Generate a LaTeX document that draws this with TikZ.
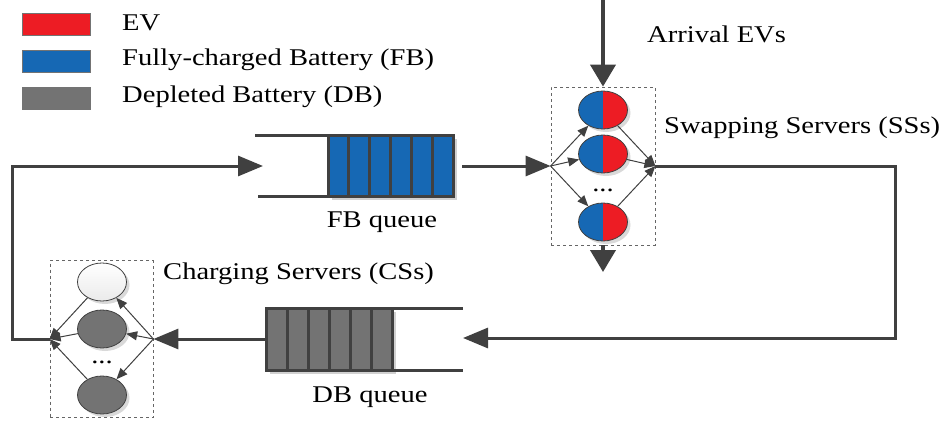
\documentclass[tikz,border=0pt]{standalone}
\usepackage{fontspec}
\setmainfont{Liberation Serif}[FakeStretch=1.19]
\usetikzlibrary{arrows.meta,shapes.geometric,shadows}
\definecolor{evred}{HTML}{ED1C24}
\definecolor{fbblue}{HTML}{1668B4}
\definecolor{dbgray}{HTML}{737373}
\definecolor{ln}{HTML}{404040}
\begin{document}
\begin{tikzpicture}[x=1pt,y=-1pt,
  thickline/.style={line width=3pt, draw=ln},
  bigarrow/.style={thickline, -{Triangle[length=25pt,width=20pt]}},
  thinarrow/.style={line width=1pt, draw=ln, -{Triangle[length=11pt,width=9pt]}},
  lbl/.style={font=\fontsize{24}{28}\selectfont, inner sep=0pt, text=black},
  swatch/.style={minimum width=68pt, minimum height=22pt, inner sep=0pt, draw=black!55, line width=0.8pt},
  dashbox/.style={draw=ln!80, dashed, line width=0.8pt, inner sep=0pt},
  sh/.style={drop shadow={shadow xshift=3pt, shadow yshift=-3pt, fill=black!25, opacity=0.6}},
  ssell/.style={ellipse, minimum width=49pt, minimum height=38pt, inner sep=0pt, draw=ln, line width=0.8pt, sh,
    path picture={
      \fill[fbblue] (path picture bounding box.south west) rectangle (path picture bounding box.north);
      \fill[evred] (path picture bounding box.south) rectangle (path picture bounding box.north east);
    }},
  csell/.style={ellipse, minimum width=49pt, minimum height=38pt, inner sep=0pt, draw=ln, line width=0.8pt, sh},
  cell/.style={line width=3pt, draw=ln},
]
\useasboundingbox (0,0) rectangle (946,423);

% legend
\node[swatch, fill=evred]  (lgev) at (56,24) {};
\node[swatch, fill=fbblue] (lgfb) at (56,61) {};
\node[swatch, fill=dbgray] (lgdb) at (56,98) {};
\node[lbl, anchor=west] (tev) at (122,23) {EV};
\node[lbl, anchor=west] (tfb) at (122,60) {Fully-charged Battery (FB)};
\node[lbl, anchor=west] (tdb) at (122,97) {Depleted Battery (DB)};

% swapping servers
\node[dashbox, minimum width=104pt, minimum height=158pt] (ssbox) at (603,166) {};
\node[ssell] (s1) at (603,110) {};
\node[ssell] (s2) at (603,154) {};
\node[ssell] (s3) at (603,222) {};
\node[lbl] (sdots) at (603,190) {...};
\node[lbl, anchor=west] (tss) at (664,128) {Swapping Servers (SSs)};
\node[lbl, anchor=west] (tarr) at (647,34) {Arrival EVs};
\foreach \e in {s1,s2,s3}{
  \draw[thinarrow] (ssbox.west) -- (\e);
  \draw[thinarrow] (\e) -- (ssbox.east);
}
\coordinate (arrtop) at (603,0);
\coordinate (depart) at (603,272);
\draw[thickline, line width=4pt, -{Triangle[length=22pt,width=25pt]}] (arrtop) -- (ssbox.north);
\draw[thickline, line width=4pt, -{Triangle[length=22pt,width=25pt]}] (ssbox.south) -- (depart);

% FB queue
\fill[black!18] (332,139) rectangle (457,200);
\foreach \i in {0,...,5}{
  \draw[cell, fill=fbblue] (328+\i*20.833,135) rectangle ++(20.833,61);
}
\draw[thickline] (255,135) -- (453,135);
\draw[thickline] (258,196) -- (453,196);
\node[lbl] (tfbq) at (382,222) {FB queue};
\coordinate (fbin) at (263,166);
\coordinate (fbout) at (462,166);
\draw[bigarrow] (fbout) -- (ssbox.west);

% right loop to DB queue
\coordinate (rtop) at (895,166);
\coordinate (rbot) at (895,338);
\coordinate (dbin) at (463,338);
\draw[bigarrow] (ssbox.east) -- (rtop) -- (rbot) -- (dbin);

% DB queue
\fill[black!18] (270,312) rectangle (396,374);
\foreach \i in {0,...,5}{
  \draw[cell, fill=dbgray] (266+\i*21,308) rectangle ++(21,62);
}
\draw[thickline] (266,308) -- (463,308);
\draw[thickline] (266,370) -- (463,370);
\node[lbl] (tdbq) at (370,397) {DB queue};
\coordinate (dbout) at (266,339);

% charging servers
\node[dashbox, minimum width=103pt, minimum height=157pt] (csbox) at (101.5,339) {};
\node[csell, top color=white, bottom color=black!8] (c1) at (102,282) {};
\node[csell, fill=dbgray] (c2) at (102,329) {};
\node[csell, fill=dbgray] (c3) at (102,395) {};
\node[lbl] (cdots) at (102,362) {...};
\node[lbl, anchor=west] (tcs) at (163,274) {Charging Servers (CSs)};
\foreach \e in {c1,c2,c3}{
  \draw[thinarrow] (csbox.east) -- (\e);
  \draw[thinarrow] (\e) -- (csbox.west);
}
\draw[bigarrow] (dbout) -- (csbox.east);

% left loop back to FB queue
\coordinate (lbot) at (12,339);
\coordinate (ltop) at (12,166);
\draw[bigarrow] (csbox.west) -- (lbot) -- (ltop) -- (fbin);
\end{tikzpicture}
\end{document}
